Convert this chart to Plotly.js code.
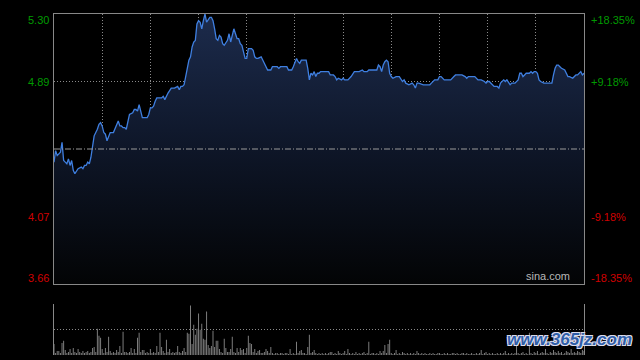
<!DOCTYPE html>
<html>
<head>
<meta charset="utf-8">
<script src="https://cdn.plot.ly/plotly-3.0.1.min.js"></script>
<style>html,body{margin:0;padding:0;background:#000;}#chart{width:640px;height:360px;}</style>
</head>
<body>
<div id="chart"></div>
<script>
// Intraday minutes since open (HK session: 330 minutes)
const minutes = [0,1,2,4,5,6,7,8,9,10,11,12,13,14,15,17,18,19,20,21,22,23,24,25,27,28,29,30,31,32,33,34,35,37,38,39,40,41,42,43,44,45,46,47,49,50,51,52,53,54,55,56,58,59,60,61,62,63,64,66,67,68,69,71,72,73,74,75,77,78,79,80,81,82,83,84,85,86,87,88,89,90,91,92,93,94,95,96,97,98,99,100,101,102,103,104,105,106,107,108,109,110,111,112,113,114,115,116,117,118,119,120,121,122,123,124,125,126,127,129,130,131,132,133,135,136,138,139,140,141,143,145,146,148,149,151,152,153,154,156,157,158,159,160,161,162,163,164,165,166,168,169,171,172,174,175,176,177,179,180,181,182,183,185,186,187,189,190,192,193,195,196,198,199,201,202,203,204,205,206,207,208,209,210,211,213,214,215,217,218,219,221,223,224,225,226,227,229,230,232,234,235,236,237,239,240,241,243,245,247,249,250,251,253,254,256,257,258,260,261,262,264,265,266,268,269,270,271,273,274,276,277,278,280,281,282,284,285,286,287,289,290,291,292,293,294,296,297,298,299,300,301,302,303,305,307,308,310,311,312,313,314,315,316,318,319,320,321,323,324,325,326,327,328,329,330];
const prices = [4.40,4.47,4.44,4.46,4.52,4.41,4.40,4.39,4.42,4.38,4.41,4.35,4.33,4.35,4.36,4.37,4.36,4.38,4.38,4.40,4.39,4.43,4.51,4.56,4.60,4.63,4.64,4.62,4.58,4.57,4.53,4.56,4.58,4.58,4.60,4.63,4.65,4.62,4.62,4.61,4.61,4.60,4.64,4.69,4.70,4.72,4.72,4.71,4.75,4.71,4.67,4.67,4.67,4.69,4.73,4.73,4.74,4.77,4.79,4.79,4.79,4.80,4.78,4.82,4.84,4.85,4.85,4.85,4.86,4.84,4.86,4.86,4.87,4.92,4.98,5.02,5.04,5.10,5.13,5.14,5.24,5.26,5.25,5.21,5.26,5.30,5.25,5.27,5.28,5.28,5.26,5.21,5.15,5.14,5.17,5.16,5.12,5.11,5.13,5.14,5.18,5.13,5.17,5.21,5.18,5.15,5.15,5.12,5.11,5.06,5.03,5.03,5.09,5.09,5.09,5.08,5.04,5.03,5.03,5.04,5.02,5.00,4.99,4.96,4.96,4.98,4.98,4.98,4.97,4.98,4.98,4.98,4.96,4.96,4.98,5.03,5.01,5.00,5.02,5.02,5.02,4.97,4.90,4.94,4.93,4.95,4.92,4.94,4.94,4.95,4.95,4.95,4.95,4.93,4.93,4.92,4.90,4.91,4.90,4.91,4.90,4.90,4.90,4.92,4.94,4.95,4.95,4.95,4.96,4.95,4.95,4.96,4.96,4.96,4.96,4.99,4.98,4.95,4.99,5.01,5.02,5.01,4.94,4.92,4.91,4.92,4.92,4.92,4.89,4.90,4.88,4.87,4.88,4.87,4.85,4.88,4.88,4.87,4.87,4.87,4.87,4.88,4.89,4.90,4.90,4.92,4.92,4.90,4.90,4.90,4.92,4.93,4.93,4.93,4.93,4.92,4.91,4.92,4.92,4.92,4.92,4.90,4.90,4.90,4.89,4.88,4.89,4.89,4.87,4.86,4.86,4.85,4.88,4.90,4.89,4.90,4.87,4.88,4.88,4.88,4.90,4.94,4.94,4.92,4.93,4.94,4.94,4.95,4.94,4.95,4.95,4.94,4.90,4.89,4.88,4.88,4.88,4.88,4.93,4.97,4.99,4.99,4.98,4.97,4.96,4.94,4.92,4.92,4.91,4.92,4.93,4.93,4.94,4.95,4.93,4.94];

// Per-minute volume (relative units), minute 0..330
const volume = [
 11,2,4,4,2,12,14,5,2,3,
 6,2,7,3,2,6,3,2,4,2,
 3,4,2,3,7,8,3,26,19,17,
 6,2,7,3,18,4,2,3,2,5,
 3,9,2,23,3,3,2,3,7,2,
 6,2,17,22,3,5,5,2,3,2,
 6,2,3,2,9,3,22,8,4,2,
 15,3,6,2,3,2,3,9,3,2,
 4,7,3,22,21,49,11,30,20,26,
 41,25,31,16,15,43,10,7,9,24,
 8,14,14,6,3,2,16,7,3,3,
 6,18,3,2,7,3,7,5,6,2,
 7,19,12,11,3,6,2,4,5,2,
 2,3,6,4,2,8,2,1,2,2,
 1,2,2,1,2,2,1,6,1,2,
 1,13,2,4,5,2,2,1,8,20,
 2,3,5,2,1,2,1,2,1,2,
 1,2,3,3,1,2,1,4,2,1,
 2,4,1,6,2,1,2,1,3,1,
 2,1,2,3,1,2,13,1,2,2,
 1,2,1,4,2,4,10,2,11,15,
 2,1,2,5,1,2,1,3,2,1,
 2,1,2,1,2,1,4,2,1,2,
 1,2,1,1,2,1,2,1,1,2,
 2,1,1,2,1,2,1,1,2,2,
 1,2,1,1,2,2,1,2,1,1,
 2,1,1,2,1,2,5,1,2,3,
 1,2,1,2,1,1,2,1,2,1,
 2,4,1,2,1,2,1,2,13,2,
 1,2,3,1,2,1,22,2,1,3,
 2,4,1,2,3,2,6,2,1,3,
 2,5,3,2,4,2,3,1,2,4,
 3,2,6,2,3,2,4,3,2,5,
 4];
const volMinutes = volume.map((v, i) => i);

const prevClose = 4.48;
const priceTicks = [5.30, 4.89, 4.07, 3.66];
const priceTickText = ["5.30", "4.89", "4.07", "3.66"];
const pctTickText = ["+18.35%", "+9.18%", "-9.18%", "-18.35%"];
const timeGrid = [0,30,60,90,120,150,180,210,240,270,300,330];

const UP = "#009a00", DOWN = "#d00000";
const FONT = "Liberation Sans, Arial, sans-serif";

const traces = [
  {
    x: minutes, y: prices, type: "scatter", mode: "lines",
    line: {color: "#3f7fe0", width: 1.3},
    fill: "tozeroy",
    fillgradient: {type: "vertical", start: 3.66, stop: 5.30,
      colorscale: [[0, "#030405"], [0.5, "#0e1628"], [1, "#1c2b4c"]]},
    xaxis: "x", yaxis: "y", hoverinfo: "skip"
  },
  {
    x: volMinutes, y: volume, type: "bar",
    marker: {color: "#808080", line: {width: 0}},
    width: 0.6, xaxis: "x2", yaxis: "y3", hoverinfo: "skip"
  }
];

const annotations = [];
priceTicks.forEach((v, i) => {
  const col = v > prevClose ? UP : DOWN;
  const shift = i === 0 ? -6 : (i === priceTicks.length - 1 ? 6 : 0);
  annotations.push({xref: "paper", yref: "y", x: 0, y: v, xanchor: "right", yanchor: "middle",
    xshift: -3, yshift: shift, showarrow: false, text: priceTickText[i],
    font: {family: FONT, size: 11, color: col}});
  annotations.push({xref: "paper", yref: "y", x: 1, y: v, xanchor: "left", yanchor: "middle",
    xshift: 5, yshift: shift, showarrow: false, text: pctTickText[i],
    font: {family: FONT, size: 11, color: col}});
});
annotations.push({xref: "paper", yref: "y", x: 0.978, y: 3.66, xanchor: "right", yanchor: "bottom",
  yshift: 0, showarrow: false, text: "sina.com", font: {family: FONT, size: 11, color: "#b8b8b8"}});
annotations.push({xref: "paper", yref: "paper", x: 1.094, y: 0.045, xanchor: "right", yanchor: "middle",
  showarrow: false, text: "<b><i>www.365jz.com</i></b>",
  font: {family: "Liberation Sans, Arial, sans-serif", size: 17, color: "#2f5ea8",
    shadow: "1px 1px 0 #dde, -1px -1px 0 #dde, 1px -1px 0 #dde, -1px 1px 0 #dde"}});

const grid = {gridcolor: "#8a8a8a", griddash: "1px,2px", gridwidth: 1};

const layout = {
  width: 640, height: 360,
  paper_bgcolor: "#000", plot_bgcolor: "#000",
  margin: {l: 54, r: 56, t: 14, b: 5},
  showlegend: false,
  xaxis: Object.assign({domain: [0, 1], range: [0, 330], anchor: "y", tickvals: timeGrid,
    showgrid: true, showticklabels: false, ticks: "", zeroline: false,
    showline: true, mirror: true, linecolor: "#888", linewidth: 1, fixedrange: true}, grid),
  yaxis: Object.assign({domain: [0.2082, 1], range: [3.66, 5.30], anchor: "x",
    tickvals: [priceTicks[1], priceTicks[2]], showgrid: true, showticklabels: false, ticks: "",
    zeroline: false, showline: true, mirror: true, linecolor: "#888", linewidth: 1}, grid),
  xaxis2: {domain: [0, 1], range: [0, 330], anchor: "y3", showgrid: false, showticklabels: false,
    ticks: "", zeroline: false, showline: false},
  yaxis3: Object.assign({domain: [0, 0.1481], range: [0, 50], anchor: "x2", tickvals: [0, 25, 50],
    showgrid: true, showticklabels: false, ticks: "", zeroline: false,
    showline: true, mirror: true, linecolor: "#888", linewidth: 1}, grid),
  shapes: [{type: "line", xref: "paper", yref: "y", x0: 0, x1: 1, y0: prevClose, y1: prevClose,
    line: {color: "#9a9a9a", width: 1, dash: "6px,2px,1px,2px"}}],
  annotations: annotations
};

Plotly.newPlot("chart", traces, layout, {staticPlot: true, displayModeBar: false});
</script>
</body>
</html>
